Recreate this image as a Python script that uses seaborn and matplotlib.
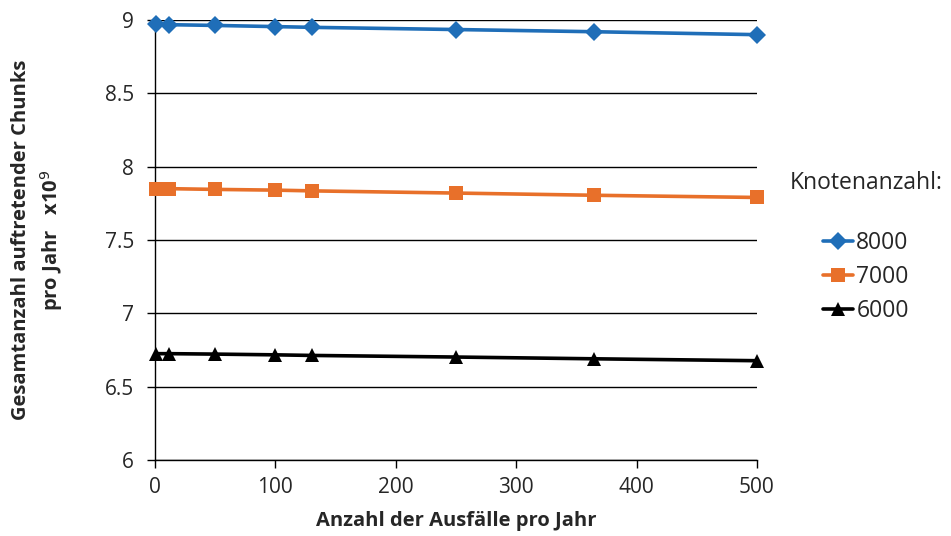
import matplotlib
matplotlib.use("Agg")
import matplotlib.pyplot as plt
from matplotlib.lines import Line2D
import seaborn as sns
import pandas as pd

# Ausfälle pro Jahr
failures = [1, 12, 50, 100, 130, 250, 365, 500]
# Gesamtanzahl Chunks pro Jahr (x10^9) je Knotenanzahl
chunks_8000 = [8.970, 8.968, 8.963, 8.955, 8.950, 8.935, 8.920, 8.900]
chunks_7000 = [7.850, 7.850, 7.845, 7.840, 7.835, 7.820, 7.805, 7.790]
chunks_6000 = [6.725, 6.725, 6.722, 6.717, 6.713, 6.702, 6.690, 6.677]
node_labels = ["8000", "7000", "6000"]

y_ticks = [6, 6.5, 7, 7.5, 8, 8.5, 9]
y_tick_labels = ["6", "6.5", "7", "7.5", "8", "8.5", "9"]
x_ticks = [0, 100, 200, 300, 400, 500]

rows = []
for label, values in zip(node_labels, [chunks_8000, chunks_7000, chunks_6000]):
    for x, y in zip(failures, values):
        rows.append({"Ausfälle": x, "Chunks": y, "Knoten": label})
df = pd.DataFrame(rows)

sns.set_theme(style="white")
plt.rcParams["font.family"] = ["Open Sans", "DejaVu Sans"]

fig = plt.figure(figsize=(9.51, 5.36), dpi=100)
ax = fig.add_axes([155 / 951, 1 - 460 / 536, (757 - 155) / 951, (460 - 20) / 536])

palette = {"8000": "#1F6EB8", "7000": "#E8702A", "6000": "#000000"}
markers = {"8000": "D", "7000": "s", "6000": "^"}
sizes = {"8000": 9.5, "7000": 10.5, "6000": 10.5}
text_color = "#262626"

sns.lineplot(data=df, x="Ausfälle", y="Chunks", hue="Knoten", style="Knoten",
             hue_order=node_labels, style_order=node_labels,
             palette=palette, markers=markers, dashes=False,
             linewidth=2.6, markersize=10, markeredgewidth=0,
             ax=ax, legend=False, zorder=3, clip_on=False)

for line, lab in zip(ax.lines, node_labels):
    line.set_markersize(sizes[lab])

ax.set_xlim(0, 500)
ax.set_ylim(6, 9)
ax.set_xticks(x_ticks)
ax.set_yticks(y_ticks)
ax.set_yticklabels(y_tick_labels)
ax.yaxis.grid(True, color="black", linewidth=1.0)
ax.xaxis.grid(False)
ax.set_axisbelow(True)

for side in ["top", "right"]:
    ax.spines[side].set_visible(False)
for side in ["left", "bottom"]:
    ax.spines[side].set_color("black")
    ax.spines[side].set_linewidth(1.0)

ax.tick_params(axis="both", which="major", direction="out", length=6, width=1,
               color="black", labelsize=15, labelcolor=text_color, left=True, bottom=True)
ax.tick_params(axis="y", pad=9)
ax.tick_params(axis="x", pad=6)

ax.set_xlabel("Anzahl der Ausfälle pro Jahr", fontsize=14.5, fontweight="bold",
              color=text_color)
ax.xaxis.set_label_coords(0.5, -(521 - 460) / 440)
ax.xaxis.label.set_va("center")

ax.set_ylabel("Gesamtanzahl auftretender Chunks\npro Jahr   x10$^9$", fontsize=14.5,
              fontweight="bold", color=text_color, linespacing=1.4)
ax.yaxis.set_label_coords((38 - 155) / 602, 0.5)
ax.yaxis.label.set_va("center")

# Legende rechts neben dem Diagramm
handles = [Line2D([0], [0], color=palette[l], marker=markers[l], lw=2.6,
                  markersize=sizes[l], markeredgewidth=0) for l in node_labels]
leg = fig.legend(handles, node_labels, title="Knotenanzahl:", loc="center",
                 bbox_to_anchor=(866 / 951, 1 - 247 / 536), frameon=False,
                 fontsize=16.5, title_fontsize=16.5, handlelength=1.3,
                 handletextpad=0.15, labelspacing=0.45)
leg._legend_box.sep = 26
for t in leg.get_texts():
    t.set_color(text_color)
leg.get_title().set_color(text_color)

fig.savefig("out.png", dpi=100)
